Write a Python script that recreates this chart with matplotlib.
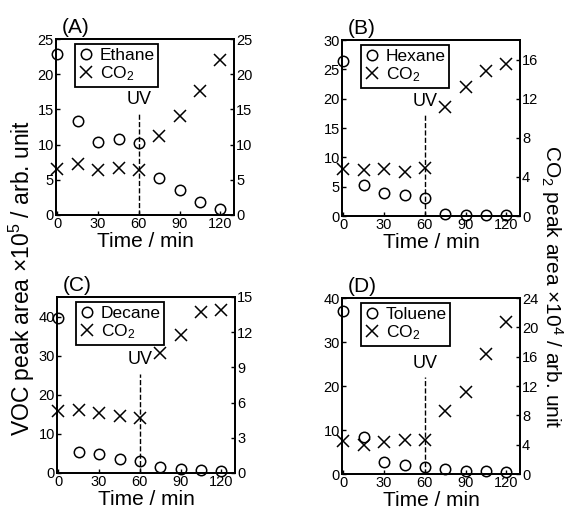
import numpy as np
import matplotlib.pyplot as plt

plt.rcParams['font.family'] = ['Liberation Sans', 'DejaVu Sans']
plt.rcParams['mathtext.fontset'] = 'custom'
plt.rcParams['mathtext.rm'] = 'Liberation Sans'
plt.rcParams['mathtext.it'] = 'Liberation Sans'

time = [0, 15, 30, 45, 60, 75, 90, 105, 120]

ethane = [22.9, 13.4, 10.4, 10.8, 10.2, 5.3, 3.6, 1.9, 0.85]
ethane_co2 = [6.5, 7.2, 6.4, 6.7, 6.4, 11.2, 14.1, 17.6, 22.0]
hexane = [26.5, 5.3, 3.9, 3.5, 3.1, 0.4, 0.2, 0.2, 0.2]
hexane_co2 = [4.8, 4.75, 4.8, 4.5, 4.9, 11.1, 13.2, 14.8, 15.5]
decane = [39.6, 5.3, 4.8, 3.6, 3.0, 1.5, 1.1, 0.7, 0.4]
decane_co2 = [5.3, 5.4, 5.1, 4.9, 4.7, 10.2, 11.8, 13.7, 13.9]
toluene = [37.0, 8.5, 2.7, 1.95, 1.5, 1.2, 0.75, 0.6, 0.45]
toluene_co2 = [4.5, 3.9, 4.4, 4.7, 4.6, 8.6, 11.2, 16.3, 20.7]

panels = [
    # tag, name, voc, co2, left lim, left ticks, right lim, right ticks, uv line top
    ("(A)", "Ethane", ethane, ethane_co2, 25, [0, 5, 10, 15, 20, 25], 25, [0, 5, 10, 15, 20, 25], 14.5),
    ("(B)", "Hexane", hexane, hexane_co2, 30, [0, 5, 10, 15, 20, 25, 30], 18, [0, 4, 8, 12, 16], 17.2),
    ("(C)", "Decane", decane, decane_co2, 45, [0, 10, 20, 30, 40], 15, [0, 3, 6, 9, 12, 15], 25.4),
    ("(D)", "Toluene", toluene, toluene_co2, 40, [0, 10, 20, 30, 40], 24, [0, 4, 8, 12, 16, 20, 24], 22.0),
]

W, H = 564, 515
fig = plt.figure(figsize=(W / 100, H / 100), dpi=100)

boxes = [(56, 215), (342, 216), (57, 473), (342, 474)]
aw, ah = 178, 176

for (tag, name, voc, co2, ylim, yt, y2lim, y2t, uvtop), (x0, yb) in zip(panels, boxes):
    ax = fig.add_axes([x0 / W, 1 - yb / H, aw / W, ah / H])
    ax2 = ax.twinx()
    h1, = ax.plot(time, voc, 'o', mfc='none', mec='black', ms=7.5, mew=1.1, clip_on=False, label=name)
    h2, = ax2.plot(time, co2, 'x', color='black', ms=8, mew=1.1, clip_on=False, label="CO$_2$")
    ax.plot([60, 60], [0, uvtop], '--', color='black', lw=1)
    ax.text(60, uvtop + ylim * 0.03, "UV", ha='center', va='bottom', fontsize=13)
    ax.set_xlim(-1, 130)
    ax.set_ylim(0, ylim)
    ax2.set_ylim(0, y2lim)
    ax.set_xticks([0, 30, 60, 90, 120])
    ax.set_yticks(yt)
    ax2.set_yticks(y2t)
    ax.set_xlabel("Time / min", fontsize=15, labelpad=1)
    for a in (ax, ax2):
        a.tick_params(direction='in', length=3, width=1, labelsize=10.5, pad=1.5)
        for s in a.spines.values():
            s.set_linewidth(1.3)
    ax.text(0.03, 1.01, tag, transform=ax.transAxes, fontsize=15, ha='left', va='bottom')
    leg = ax2.legend(handles=[h1, h2], loc='upper left', bbox_to_anchor=(0.08, 1.0), fontsize=12.5,
                     fancybox=False, edgecolor='black', framealpha=1, borderpad=0.2,
                     handlelength=0.8, handletextpad=0.4, labelspacing=0.1, borderaxespad=0.3)
    leg.get_frame().set_linewidth(1.3)

fig.text(22 / W, 1 - 278 / H, "VOC peak area $\\times$10$^5$ / arb. unit", rotation=90,
         ha='center', va='center', fontsize=16.5)
fig.text(552 / W, 1 - 287 / H, "CO$_2$ peak area $\\times$10$^4$ / arb. unit", rotation=270,
         ha='center', va='center', fontsize=15)

fig.savefig("out.png", dpi=100)
